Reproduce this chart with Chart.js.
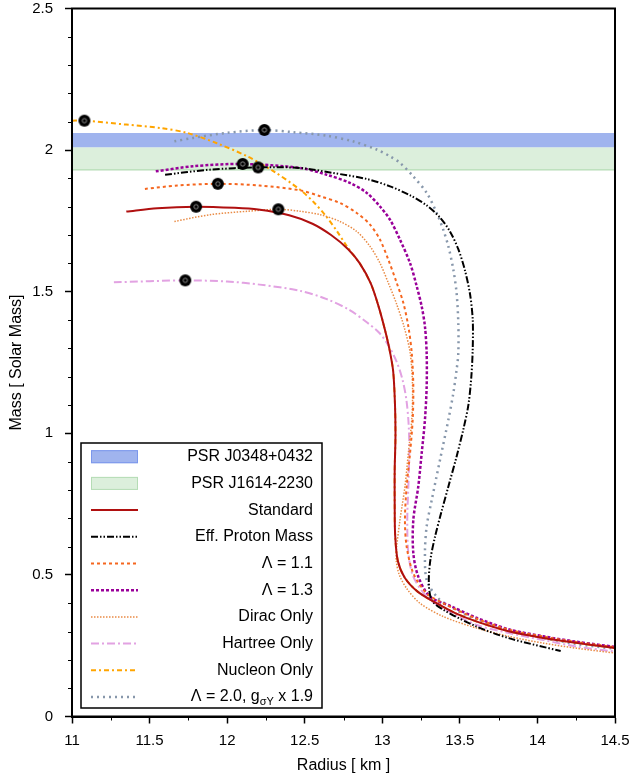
<!DOCTYPE html>
<html lang="en">
<head>
<meta charset="UTF-8">
<title>Mass-radius relation</title>
<script src="https://cdn.jsdelivr.net/npm/chart.js@4.4.0/dist/chart.umd.min.js"></script>
<style>
    body { margin: 0; background: #fff; }
    canvas { display: block; }
</style>
</head>
<body>
<canvas id="mrCanvas" width="633" height="778"></canvas>
<script>
// radius [km] and mass [solar masses] along each sequence
var standardR = [11.35, 11.55, 11.80, 12.05, 12.20, 12.40, 12.55, 12.67, 12.78, 12.855, 12.925, 12.975, 13.015, 13.045, 13.07, 13.082, 13.085, 13.08, 13.08, 13.083, 13.10, 13.145, 13.23, 13.35, 13.47, 13.61, 13.82, 14.04, 14.25, 14.50];
var standardM = [1.783, 1.795, 1.800, 1.796, 1.790, 1.770, 1.740, 1.700, 1.650, 1.600, 1.530, 1.450, 1.370, 1.300, 1.220, 1.100, 0.990, 0.870, 0.750, 0.640, 0.550, 0.490, 0.440, 0.400, 0.365, 0.335, 0.300, 0.277, 0.260, 0.242];

var protonR = [11.60, 11.89, 12.20, 12.47, 12.685, 12.90, 13.05, 13.18, 13.286, 13.372, 13.437, 13.49, 13.533, 13.566, 13.583, 13.583, 13.574, 13.555, 13.525, 13.48, 13.43, 13.38, 13.34, 13.31, 13.30, 13.32, 13.40, 13.61, 13.82, 14.15];
var protonM = [1.913, 1.931, 1.939, 1.937, 1.919, 1.898, 1.872, 1.840, 1.805, 1.762, 1.712, 1.650, 1.575, 1.490, 1.400, 1.300, 1.200, 1.100, 1.020, 0.920, 0.820, 0.720, 0.635, 0.553, 0.470, 0.410, 0.375, 0.317, 0.276, 0.231];

var lam11R = [11.47, 11.68, 11.94, 12.21, 12.47, 12.60, 12.727, 12.835, 12.921, 12.985, 13.039, 13.093, 13.136, 13.168, 13.19, 13.20, 13.196, 13.179, 13.157, 13.146, 13.157, 13.20, 13.286, 13.40, 13.61, 13.82, 14.04, 14.25, 14.50];
var lam11M = [1.863, 1.875, 1.881, 1.875, 1.858, 1.837, 1.813, 1.778, 1.737, 1.684, 1.613, 1.531, 1.460, 1.377, 1.283, 1.165, 1.048, 0.930, 0.812, 0.694, 0.600, 0.506, 0.435, 0.398, 0.345, 0.306, 0.282, 0.263, 0.245];

var lam13R = [11.54, 11.78, 12.10, 12.47, 12.642, 12.792, 12.90, 12.985, 13.05, 13.114, 13.179, 13.222, 13.254, 13.275, 13.286, 13.286, 13.275, 13.254, 13.232, 13.20, 13.20, 13.232, 13.308, 13.44, 13.61, 13.82, 14.04, 14.25, 14.50];
var lam13M = [1.925, 1.943, 1.951, 1.937, 1.913, 1.884, 1.849, 1.801, 1.754, 1.684, 1.601, 1.519, 1.448, 1.377, 1.283, 1.165, 1.048, 0.930, 0.812, 0.694, 0.577, 0.494, 0.423, 0.390, 0.348, 0.307, 0.283, 0.264, 0.246];

var diracR = [11.66, 11.89, 12.13, 12.33, 12.47, 12.60, 12.727, 12.835, 12.921, 12.985, 13.039, 13.09, 13.14, 13.18, 13.195, 13.19, 13.168, 13.146, 13.114, 13.093, 13.09, 13.11, 13.16, 13.243, 13.393, 13.609, 13.823, 14.038, 14.253, 14.50];
var diracM = [1.748, 1.772, 1.784, 1.791, 1.784, 1.772, 1.748, 1.713, 1.660, 1.601, 1.531, 1.460, 1.377, 1.283, 1.165, 1.048, 0.930, 0.812, 0.694, 0.600, 0.550, 0.500, 0.450, 0.400, 0.353, 0.312, 0.282, 0.259, 0.241, 0.224];

var hartreeR = [11.27, 11.73, 12.00, 12.21, 12.47, 12.642, 12.79, 12.90, 12.98, 13.04, 13.093, 13.13, 13.155, 13.17, 13.174, 13.168, 13.161, 13.168, 13.20, 13.286, 13.393, 13.609, 13.823, 14.038, 14.253, 14.50];
var hartreeM = [1.533, 1.540, 1.536, 1.525, 1.503, 1.474, 1.435, 1.392, 1.355, 1.310, 1.252, 1.190, 1.120, 1.030, 0.930, 0.812, 0.694, 0.577, 0.494, 0.423, 0.382, 0.323, 0.294, 0.270, 0.247, 0.229];

var nucleonR = [11.00, 11.08, 11.35, 11.57, 11.74, 11.93, 12.13, 12.30, 12.47, 12.56, 12.64, 12.71, 12.77, 12.82, 12.855, 12.925, 12.975, 13.015, 13.045, 13.07, 13.082, 13.085, 13.08, 13.08, 13.083, 13.10, 13.145, 13.23, 13.35, 13.47, 13.61, 13.82, 14.04, 14.25, 14.50];
var nucleonM = [2.104, 2.104, 2.090, 2.078, 2.061, 2.025, 1.978, 1.925, 1.860, 1.815, 1.765, 1.712, 1.662, 1.625, 1.600, 1.530, 1.450, 1.370, 1.300, 1.220, 1.100, 0.990, 0.870, 0.750, 0.640, 0.550, 0.490, 0.440, 0.400, 0.365, 0.335, 0.300, 0.277, 0.260, 0.242];

var lam20R = [11.66, 11.78, 12.00, 12.24, 12.43, 12.64, 12.81, 12.964, 13.05, 13.114, 13.20, 13.286, 13.351, 13.393, 13.426, 13.458, 13.479, 13.49, 13.49, 13.479, 13.458, 13.426, 13.372, 13.319, 13.286, 13.275, 13.286, 13.351, 13.437, 13.609, 13.823, 14.036, 14.253, 14.50];
var lam20M = [2.031, 2.043, 2.061, 2.071, 2.063, 2.051, 2.031, 2.002, 1.978, 1.955, 1.907, 1.849, 1.778, 1.719, 1.660, 1.578, 1.495, 1.389, 1.283, 1.224, 1.142, 1.048, 0.906, 0.765, 0.671, 0.577, 0.482, 0.423, 0.388, 0.341, 0.302, 0.277, 0.256, 0.239];

// maximum-mass configurations
var maxR = [11.08, 12.24, 12.10, 12.20, 11.94, 11.80, 12.33, 11.73];
var maxM = [2.104, 2.071, 1.951, 1.939, 1.881, 1.800, 1.791, 1.540];

// pulsar mass bands [lower, upper]
var bandR = [11, 14.5];
var j0348 = [2.01, 2.06];
var j1614 = [1.93, 2.01];

var xTicks = [11, 11.5, 12, 12.5, 13, 13.5, 14, 14.5];
var yTicks = [0, 0.5, 1, 1.5, 2, 2.5];

function pairs(rs, ms) {
    var out = [];
    for (var i = 0; i < rs.length; i++) out.push({x: rs[i], y: ms[i]});
    return out;
}

function curve(label, rs, ms, color, width, dash) {
    return {
        label: label,
        data: pairs(rs, ms),
        showLine: true,
        borderColor: color,
        borderWidth: width,
        borderDash: dash,
        pointRadius: 0,
        tension: 0.3,
        fill: false,
        order: 1
    };
}

function band(label, rs, lim, fillColor, edgeColor, edgeWidth) {
    return {
        label: label,
        data: [{x: rs[0], y: lim[0]}, {x: rs[1], y: lim[0]}],
        showLine: true,
        borderColor: edgeColor,
        borderWidth: edgeWidth,
        backgroundColor: fillColor,
        legendEdge: edgeColor,
        isBand: true,
        pointRadius: 0,
        fill: {value: lim[1]},
        order: 5
    };
}

function makeMarker() {
    var c = document.createElement('canvas');
    c.width = 14; c.height = 14;
    var g = c.getContext('2d');
    g.fillStyle = '#000';
    g.beginPath(); g.arc(7, 7, 6, 0, Math.PI * 2); g.fill();
    g.strokeStyle = '#a8a8a8';
    g.lineWidth = 0.8;
    g.beginPath(); g.arc(7, 7, 2.2, 0, Math.PI * 2); g.stroke();
    return c;
}

var datasets = [
    band('PSR J0348+0432', bandR, j0348, '#a0b4ee', '#7b97ec', 0),
    band('PSR J1614-2230', bandR, j1614, '#dcefdc', '#b5dcb5', 1.2),
    curve('Standard', standardR, standardM, '#b01010', 2, []),
    curve('Eff. Proton Mass', protonR, protonM, '#000000', 2, [7, 2, 1.5, 2, 1.5, 2]),
    curve('\u039b = 1.1', lam11R, lam11M, '#f5661f', 2, [3, 3]),
    curve('\u039b = 1.3', lam13R, lam13M, '#990099', 2.5, [3, 2]),
    curve('Dirac Only', diracR, diracM, '#e98b45', 1.5, [1.5, 1.5]),
    curve('Hartree Only', hartreeR, hartreeM, '#e2a2e2', 2, [8, 3, 2, 3]),
    curve('Nucleon Only', nucleonR, nucleonM, '#ffa500', 2, [5, 3, 2, 3]),
    curve('\u039b = 2.0, g', lam20R, lam20M, '#8797ab', 2.5, [2, 4]),
    {
        label: 'max',
        data: pairs(maxR, maxM),
        showLine: false,
        pointStyle: makeMarker(),
        pointRadius: 6,
        order: 0
    }
];

// frame, minor ticks and the in-plot key
var decorations = {
    id: 'decorations',
    afterDraw: function(chart) {
        var ctx = chart.ctx;
        var a = chart.chartArea;
        var xs = chart.scales.x, ys = chart.scales.y;
        ctx.save();
        ctx.strokeStyle = '#000';
        ctx.lineWidth = 1;
        for (var v = 0; v <= 2.5001; v += 0.1) {
            if (Math.abs(v * 2 - Math.round(v * 2)) < 1e-6) continue;
            var py = Math.round(ys.getPixelForValue(v)) + 0.5;
            ctx.beginPath(); ctx.moveTo(a.left - 4, py); ctx.lineTo(a.left, py); ctx.stroke();
        }
        for (var r = 11.25; r < 14.5; r += 0.5) {
            var px = Math.round(xs.getPixelForValue(r)) + 0.5;
            ctx.beginPath(); ctx.moveTo(px, a.bottom); ctx.lineTo(px, a.bottom + 4); ctx.stroke();
        }
        ctx.lineWidth = 2;
        ctx.strokeRect(a.left, a.top, a.right - a.left, a.bottom - a.top);

        // key
        var bx = 81, by = 443, bw = 241, bh = 265;
        ctx.fillStyle = '#fff';
        ctx.fillRect(bx, by, bw, bh);
        ctx.lineWidth = 1.5;
        ctx.strokeStyle = '#000';
        ctx.strokeRect(bx, by, bw, bh);
        var rows = chart.data.datasets.filter(function(d) { return d.label !== 'max'; });
        ctx.font = '16px "Liberation Sans", Arial, sans-serif';
        ctx.textBaseline = 'middle';
        rows.forEach(function(d, i) {
            var y = 456.7 + i * 26.7;
            if (d.isBand) {
                ctx.fillStyle = d.backgroundColor;
                ctx.fillRect(91, y - 6.5, 47, 13);
                ctx.strokeStyle = d.legendEdge;
                ctx.lineWidth = 1;
                ctx.setLineDash([]);
                ctx.strokeRect(91.5, y - 6, 46, 12);
            } else {
                ctx.strokeStyle = d.borderColor;
                ctx.lineWidth = d.borderWidth;
                ctx.setLineDash(d.borderDash);
                ctx.beginPath(); ctx.moveTo(91, y); ctx.lineTo(138, y); ctx.stroke();
                ctx.setLineDash([]);
            }
            ctx.fillStyle = '#000';
            if (d.label === '\u039b = 2.0, g') {
                var tail = ' x 1.9';
                ctx.font = '16px "Liberation Sans", Arial, sans-serif';
                var w1 = ctx.measureText(d.label).width;
                var w3 = ctx.measureText(tail).width;
                ctx.font = '11px "Liberation Sans", Arial, sans-serif';
                var w2 = ctx.measureText('\u03c3Y').width;
                var x0 = 313 - w1 - w2 - w3;
                ctx.textAlign = 'left';
                ctx.font = '16px "Liberation Sans", Arial, sans-serif';
                ctx.fillText(d.label, x0, y);
                ctx.font = '11px "Liberation Sans", Arial, sans-serif';
                ctx.fillText('\u03c3Y', x0 + w1, y + 5);
                ctx.font = '16px "Liberation Sans", Arial, sans-serif';
                ctx.fillText(tail, x0 + w1 + w2, y);
            } else {
                ctx.textAlign = 'right';
                ctx.fillText(d.label, 313, y);
            }
        });
        ctx.restore();
    }
};

var tickFont = {family: '"Liberation Sans", Arial, sans-serif', size: 15};
var titleFont = {family: '"Liberation Sans", Arial, sans-serif', size: 16};

new Chart(document.getElementById('mrCanvas'), {
    type: 'scatter',
    data: {datasets: datasets},
    plugins: [decorations],
    options: {
        responsive: false,
        animation: false,
        layout: {padding: {left: 0, top: 8.5, right: 18, bottom: 0}},
        plugins: {legend: {display: false}, tooltip: {enabled: false}},
        scales: {
            x: {
                type: 'linear',
                min: 11,
                max: 14.5,
                afterBuildTicks: function(s) { s.ticks = xTicks.map(function(v) { return {value: v}; }); },
                afterFit: function(s) { s.height = 61.5; s.paddingLeft = 0; s.paddingRight = 0; },
                ticks: {color: '#000', font: tickFont, padding: 8, autoSkip: false, maxRotation: 0,
                        callback: function(v) { return String(v); }},
                grid: {drawOnChartArea: false, drawTicks: true, tickLength: 7, tickColor: '#000', tickWidth: 1.5},
                border: {display: true, color: '#000', width: 2},
                title: {display: true, text: 'Radius [ km ]', color: '#000', font: titleFont, padding: {top: 0, bottom: 2.4}}
            },
            y: {
                type: 'linear',
                min: 0,
                max: 2.5,
                afterBuildTicks: function(s) { s.ticks = yTicks.map(function(v) { return {value: v}; }); },
                afterFit: function(s) { s.width = 72; s.paddingTop = 0; s.paddingBottom = 0; },
                ticks: {color: '#000', font: tickFont, padding: 12, autoSkip: false,
                        callback: function(v) { return String(v); }},
                grid: {drawOnChartArea: false, drawTicks: true, tickLength: 7, tickColor: '#000', tickWidth: 1.5},
                border: {display: true, color: '#000', width: 2},
                title: {display: true, text: 'Mass [ Solar Mass]', color: '#000', font: titleFont, padding: {top: 7.4, bottom: 0}}
            }
        }
    }
});
</script>
</body>
</html>
